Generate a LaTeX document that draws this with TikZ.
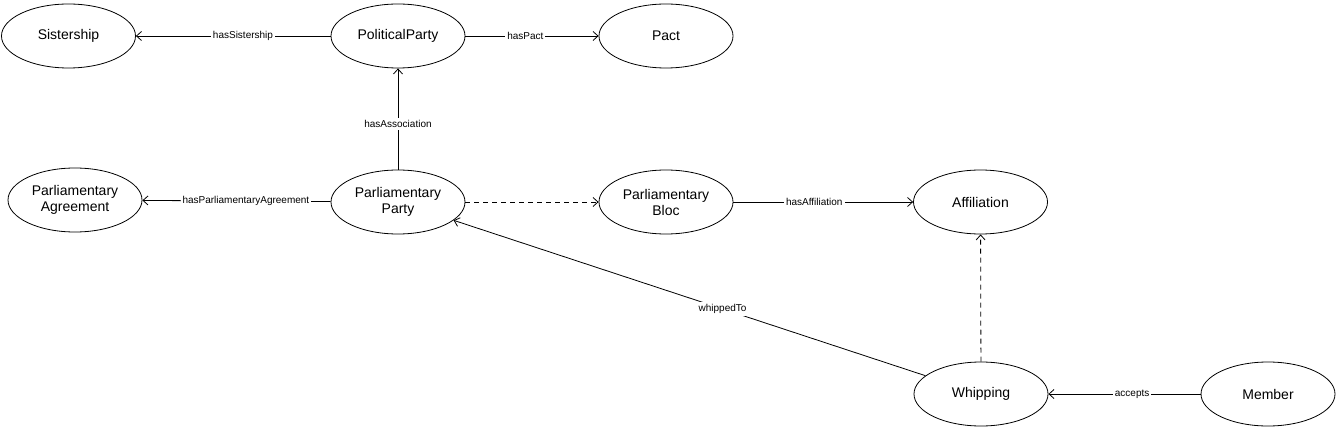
\documentclass[tikz,border=0pt]{standalone}
\usepackage{fontspec}
\setmainfont{Liberation Sans}
\usetikzlibrary{shapes.geometric,arrows.meta}

\begin{document}
\begin{tikzpicture}[x=1pt,y=-1pt,
  concept/.style={draw,ellipse,line width=0.8pt,minimum width=134pt,minimum height=64pt,
    inner sep=0pt,align=center,font=\fontsize{14}{16}\selectfont},
  rel/.style={-{Straight Barb[length=5pt,width=9pt]},line width=0.8pt},
  weak/.style={rel,dash pattern=on 5pt off 4pt},
  lbl/.style={fill=white,inner sep=2pt,font=\fontsize{10}{12}\selectfont}]
  \useasboundingbox (0,0) rectangle (1337,430);
  \node [concept] (sistership) at (68.5,36) {Sistership};
  \node [concept] (politicalparty) at (398,36) {PoliticalParty};
  \node [concept] (pact) at (666,36) {Pact};
  \node [concept] (agreement) at (75,200) {Parliamentary\\Agreement};
  \node [concept] (party) at (398,202) {Parliamentary\\Party};
  \node [concept] (bloc) at (666,202) {Parliamentary\\Bloc};
  \node [concept] (affiliation) at (980.5,202) {Affiliation};
  \node [concept] (whipping) at (981,394) {Whipping};
  \node [concept] (member) at (1268,394) {Member};
  \draw [rel] (politicalparty) -- node [lbl,pos=0.45] {hasSistership} (sistership);
  \draw [rel] (politicalparty) -- node [lbl,pos=0.45] {hasPact} (pact);
  \draw [rel] (party) -- node [lbl,pos=0.45] {hasAssociation} (politicalparty);
  \draw [rel] (party) -- node [lbl,pos=0.45] {hasParliamentaryAgreement} (agreement);
  \draw [weak] (party) -- (bloc);
  \draw [rel] (bloc) -- node [lbl,pos=0.45] {hasAffiliation} (affiliation);
  \draw [weak] (whipping) -- (affiliation);
  \draw [rel] (whipping) -- node [lbl,pos=0.43] {whippedTo} (party);
  \draw [rel] (member) -- node [lbl,pos=0.45] {accepts} (whipping);
\end{tikzpicture}
\end{document}
